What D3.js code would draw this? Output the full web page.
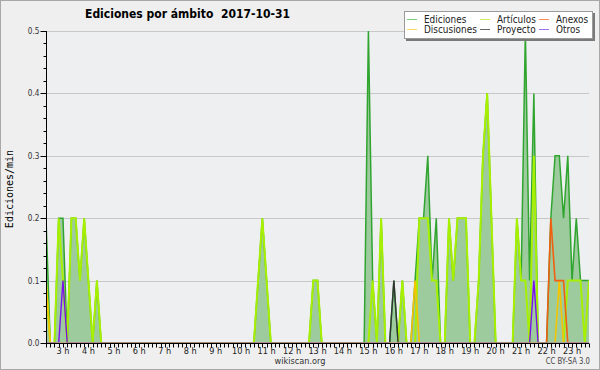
<!DOCTYPE html>
<html>
<head>
<meta charset="utf-8">
<script src="https://cdn.jsdelivr.net/npm/d3@7"></script>
<style>
  html, body { margin: 0; padding: 0; background: #efefef; }
  svg { display: block; }
  text { font-family: "DejaVu Sans", sans-serif; }
</style>
</head>
<body>
<div id="chart"></div>
<script>
// Ediciones por ámbito - wikiscan style day chart, one point every 10 minutes
// first point is 2:20, last one 23:40 (values are edits per minute)
const firstMinute = 140;
const stepMinutes = 10;

const ediciones = [
    0.2, 0, 0, 0.2, 0.2, 0,
    0.2, 0.2, 0.1, 0.2, 0.1, 0,
    0.1, 0, 0, 0, 0, 0,
    0, 0, 0, 0, 0, 0,
    0, 0, 0, 0, 0, 0,
    0, 0, 0, 0, 0, 0,
    0, 0, 0, 0, 0, 0,
    0, 0, 0, 0, 0, 0,
    0, 0, 0.1, 0.2, 0.1, 0,
    0, 0, 0, 0, 0, 0,
    0, 0, 0, 0.1, 0.1, 0,
    0, 0, 0, 0, 0, 0,
    0, 0, 0, 0, 0.5, 0.1,
    0, 0.2, 0, 0, 0.1, 0,
    0.1, 0, 0, 0.1, 0.2, 0.2,
    0.3, 0.1, 0.2, 0, 0, 0.2,
    0.1, 0.2, 0.2, 0.2, 0, 0,
    0.1, 0.3, 0.4, 0.2, 0, 0,
    0, 0, 0, 0.2, 0.1, 0.5,
    0.1, 0.4, 0, 0, 0, 0.2,
    0.3, 0.3, 0.2, 0.3, 0.1, 0.2,
    0.1, 0.1, 0.1
];

const articulos = [
    0.1, 0, 0, 0.2, 0.1, 0,
    0.2, 0.2, 0.1, 0.2, 0.1, 0,
    0.1, 0, 0, 0, 0, 0,
    0, 0, 0, 0, 0, 0,
    0, 0, 0, 0, 0, 0,
    0, 0, 0, 0, 0, 0,
    0, 0, 0, 0, 0, 0,
    0, 0, 0, 0, 0, 0,
    0, 0, 0.1, 0.2, 0.1, 0,
    0, 0, 0, 0, 0, 0,
    0, 0, 0, 0.1, 0.1, 0,
    0, 0, 0, 0, 0, 0,
    0, 0, 0, 0, 0, 0.1,
    0, 0.2, 0, 0, 0, 0,
    0.1, 0, 0, 0, 0.2, 0.2,
    0.2, 0.1, 0.1, 0, 0, 0.2,
    0.1, 0.2, 0.2, 0.2, 0, 0,
    0.1, 0.3, 0.4, 0.2, 0, 0,
    0, 0, 0, 0.2, 0.1, 0.1,
    0, 0.3, 0, 0, 0, 0,
    0, 0, 0, 0.1, 0.1, 0.1,
    0.1, 0, 0.1
];

const discusiones = [
    0.1, 0, 0, 0, 0, 0,
    0, 0, 0, 0, 0, 0,
    0, 0, 0, 0, 0, 0,
    0, 0, 0, 0, 0, 0,
    0, 0, 0, 0, 0, 0,
    0, 0, 0, 0, 0, 0,
    0, 0, 0, 0, 0, 0,
    0, 0, 0, 0, 0, 0,
    0, 0, 0, 0, 0, 0,
    0, 0, 0, 0, 0, 0,
    0, 0, 0, 0, 0, 0,
    0, 0, 0, 0, 0, 0,
    0, 0, 0, 0, 0, 0,
    0, 0, 0, 0, 0, 0,
    0, 0, 0, 0.1, 0, 0,
    0, 0, 0, 0, 0, 0,
    0, 0, 0, 0, 0, 0,
    0, 0, 0, 0, 0, 0,
    0, 0, 0, 0, 0, 0,
    0, 0, 0, 0, 0, 0,
    0, 0.1, 0, 0, 0, 0,
    0, 0, 0
];

const anexos = [
    0, 0, 0, 0, 0, 0,
    0, 0, 0, 0, 0, 0,
    0, 0, 0, 0, 0, 0,
    0, 0, 0, 0, 0, 0,
    0, 0, 0, 0, 0, 0,
    0, 0, 0, 0, 0, 0,
    0, 0, 0, 0, 0, 0,
    0, 0, 0, 0, 0, 0,
    0, 0, 0, 0, 0, 0,
    0, 0, 0, 0, 0, 0,
    0, 0, 0, 0, 0, 0,
    0, 0, 0, 0, 0, 0,
    0, 0, 0, 0, 0, 0,
    0, 0, 0, 0, 0, 0,
    0, 0, 0, 0, 0, 0,
    0, 0, 0, 0, 0, 0,
    0, 0, 0, 0, 0, 0,
    0, 0, 0, 0, 0, 0,
    0, 0, 0, 0, 0, 0,
    0, 0, 0, 0, 0, 0.2,
    0.1, 0.1, 0.1, 0, 0, 0,
    0, 0, 0
];

const proyecto = [
    0, 0, 0, 0, 0, 0,
    0, 0, 0, 0, 0, 0,
    0, 0, 0, 0, 0, 0,
    0, 0, 0, 0, 0, 0,
    0, 0, 0, 0, 0, 0,
    0, 0, 0, 0, 0, 0,
    0, 0, 0, 0, 0, 0,
    0, 0, 0, 0, 0, 0,
    0, 0, 0, 0, 0, 0,
    0, 0, 0, 0, 0, 0,
    0, 0, 0, 0, 0, 0,
    0, 0, 0, 0, 0, 0,
    0, 0, 0, 0, 0, 0,
    0, 0, 0, 0, 0.1, 0,
    0, 0, 0, 0, 0, 0,
    0, 0, 0, 0, 0, 0,
    0, 0, 0, 0, 0, 0,
    0, 0, 0, 0, 0, 0,
    0, 0, 0, 0, 0, 0,
    0, 0, 0, 0, 0, 0,
    0, 0, 0, 0, 0, 0,
    0, 0, 0
];

const otros = [
    0, 0, 0, 0, 0.1, 0,
    0, 0, 0, 0, 0, 0,
    0, 0, 0, 0, 0, 0,
    0, 0, 0, 0, 0, 0,
    0, 0, 0, 0, 0, 0,
    0, 0, 0, 0, 0, 0,
    0, 0, 0, 0, 0, 0,
    0, 0, 0, 0, 0, 0,
    0, 0, 0, 0, 0, 0,
    0, 0, 0, 0, 0, 0,
    0, 0, 0, 0, 0, 0,
    0, 0, 0, 0, 0, 0,
    0, 0, 0, 0, 0, 0,
    0, 0, 0, 0, 0, 0,
    0, 0, 0, 0, 0, 0,
    0, 0, 0, 0, 0, 0,
    0, 0, 0, 0, 0, 0,
    0, 0, 0, 0, 0, 0,
    0, 0, 0, 0, 0, 0,
    0, 0.1, 0, 0, 0, 0,
    0, 0, 0, 0, 0, 0,
    0, 0, 0
];

const hourTicks = [3, 4, 5, 6, 7, 8, 9, 10, 11, 12, 13, 14, 15, 16, 17, 18, 19, 20, 21, 22, 23];
const yTicks = [0, 0.1, 0.2, 0.3, 0.4, 0.5];

// series drawn as lines on top of the Ediciones area (legend order differs)
const lineSeries = [
    { name: 'Artículos', values: articulos, color: '#a6f000', width: 2 },
    { name: 'Discusiones', values: discusiones, color: '#f5c400', width: 1.6 },
    { name: 'Anexos', values: anexos, color: '#f06010', width: 1.6 },
    { name: 'Proyecto', values: proyecto, color: '#333333', width: 1.4 },
    { name: 'Otros', values: otros, color: '#7a10f0', width: 1.4 }
];

const legendItems = [
    { name: 'Ediciones', color: '#7ccc7c', col: 0, row: 0 },
    { name: 'Discusiones', color: '#f8d860', col: 0, row: 1 },
    { name: 'Artículos', color: '#c8f060', col: 1, row: 0 },
    { name: 'Proyecto', color: '#666666', col: 1, row: 1 },
    { name: 'Anexos', color: '#f79060', col: 2, row: 0 },
    { name: 'Otros', color: '#a070f0', col: 2, row: 1 }
];

const width = 600;
const height = 370;
const margin = { left: 46, right: 11, top: 31, bottom: 27 };

// no condensed DejaVu installed, so squeeze the text a little
function condense(sel, factor) {
    sel.each(function() {
        const w = this.getComputedTextLength();
        d3.select(this)
            .attr('textLength', w * factor)
            .attr('lengthAdjust', 'spacingAndGlyphs');
    });
}

const svg = d3.select('#chart')
    .append('svg')
    .attr('width', width)
    .attr('height', height);

// outer frame
svg.append('rect')
    .attr('x', 0.5).attr('y', 0.5)
    .attr('width', width - 1).attr('height', height - 1)
    .attr('fill', '#efefef')
    .attr('stroke', '#a8a8a8');

const x = d3.scaleLinear()
    .domain([firstMinute, firstMinute + stepMinutes * (ediciones.length - 1)])
    .range([margin.left, width - margin.right]);

const y = d3.scaleLinear()
    .domain([0, 0.5])
    .range([height - margin.bottom, margin.top]);

const minuteOf = i => firstMinute + i * stepMinutes;
const axisY = Math.round(y(0)) + 0.5;
const axisX = margin.left + 0.5;

// plot background
svg.append('rect')
    .attr('x', margin.left)
    .attr('y', margin.top)
    .attr('width', width - margin.right - margin.left)
    .attr('height', height - margin.bottom - margin.top)
    .attr('fill', '#eeeff1');

// keep the zero-level parts of the lines off the axis
svg.append('clipPath')
    .attr('id', 'plot-clip')
    .append('rect')
    .attr('x', margin.left)
    .attr('y', margin.top - 4)
    .attr('width', width - margin.right - margin.left)
    .attr('height', axisY - 1.3 - (margin.top - 4));

// horizontal grid
svg.selectAll('.grid')
    .data(yTicks.filter(d => d > 0))
    .enter()
    .append('line')
    .attr('class', 'grid')
    .attr('x1', margin.left)
    .attr('x2', width - margin.right)
    .attr('y1', d => Math.round(y(d)) + 0.5)
    .attr('y2', d => Math.round(y(d)) + 0.5)
    .attr('stroke', '#c8c8c8')
    .attr('stroke-width', 1);

const plot = svg.append('g').attr('clip-path', 'url(#plot-clip)');

// Ediciones area + line
const area = d3.area()
    .x((d, i) => x(minuteOf(i)))
    .y0(y(0))
    .y1(d => y(d));

const line = d3.line()
    .x((d, i) => x(minuteOf(i)))
    .y(d => y(d));

plot.append('path')
    .datum(ediciones)
    .attr('d', area)
    .attr('fill', '#9ecb9e');

plot.append('path')
    .datum(ediciones)
    .attr('d', line)
    .attr('fill', 'none')
    .attr('stroke', '#2fa52f')
    .attr('stroke-width', 1.5);

lineSeries.forEach(s => {
    plot.append('path')
        .datum(s.values)
        .attr('d', line)
        .attr('fill', 'none')
        .attr('stroke', s.color)
        .attr('stroke-width', s.width);
});

// x axis
svg.append('line')
    .attr('x1', margin.left).attr('x2', width - margin.right)
    .attr('y1', axisY).attr('y2', axisY)
    .attr('stroke', '#000');

svg.selectAll('.x-tick')
    .data(d3.range(ediciones.length))
    .enter()
    .append('line')
    .attr('class', 'x-tick')
    .attr('x1', i => Math.round(x(minuteOf(i))) + 0.5)
    .attr('x2', i => Math.round(x(minuteOf(i))) + 0.5)
    .attr('y1', axisY)
    .attr('y2', axisY + 4)
    .attr('stroke', '#000');

svg.selectAll('.x-label')
    .data(hourTicks)
    .enter()
    .append('text')
    .attr('class', 'x-label')
    .attr('x', h => x(h * 60))
    .attr('y', 354)
    .attr('text-anchor', 'middle')
    .attr('font-size', '9.5px')
    .attr('fill', '#222')
    .text(h => h + ' h')
    .call(condense, 0.86);

// y axis
svg.append('line')
    .attr('x1', axisX).attr('x2', axisX)
    .attr('y1', y(0.5)).attr('y2', axisY)
    .attr('stroke', '#000');

svg.selectAll('.y-minor')
    .data(d3.range(0, 0.5001, 0.02))
    .enter()
    .append('line')
    .attr('class', 'y-minor')
    .attr('x1', axisX - 3)
    .attr('x2', axisX)
    .attr('y1', d => Math.round(y(d)) + 0.5)
    .attr('y2', d => Math.round(y(d)) + 0.5)
    .attr('stroke', '#000');

svg.selectAll('.y-major')
    .data(yTicks)
    .enter()
    .append('line')
    .attr('class', 'y-major')
    .attr('x1', axisX - 6)
    .attr('x2', axisX)
    .attr('y1', d => Math.round(y(d)) + 0.5)
    .attr('y2', d => Math.round(y(d)) + 0.5)
    .attr('stroke', '#000');

svg.selectAll('.y-label')
    .data(yTicks)
    .enter()
    .append('text')
    .attr('class', 'y-label')
    .attr('x', axisX - 7)
    .attr('y', d => y(d) + 3)
    .attr('text-anchor', 'end')
    .attr('font-size', '8.5px')
    .attr('fill', '#333')
    .text(d => d3.format('.1f')(d))
    .call(condense, 0.86);

svg.append('text')
    .attr('transform', `translate(13, ${y(0.25) + 2}) rotate(-90)`)
    .attr('text-anchor', 'middle')
    .style('font-family', '"DejaVu Sans Mono", monospace')
    .attr('font-size', '10px')
    .attr('fill', '#000')
    .text('Ediciones/min');

// title
svg.append('text')
    .attr('x', 85)
    .attr('y', 18)
    .attr('font-size', '13px')
    .attr('font-weight', 'bold')
    .attr('fill', '#000')
    .attr('textLength', 205)
    .attr('lengthAdjust', 'spacingAndGlyphs')
    .text('Ediciones por ámbito\u00a0\u00a02017-10-31');

// footer
svg.append('text')
    .attr('x', 300)
    .attr('y', 364)
    .attr('text-anchor', 'middle')
    .attr('font-size', '9.5px')
    .attr('fill', '#333')
    .text('wikiscan.org')
    .call(condense, 0.86);

svg.append('text')
    .attr('x', 590)
    .attr('y', 364)
    .attr('text-anchor', 'end')
    .attr('font-size', '8px')
    .attr('fill', '#444')
    .text('CC BY-SA 3.0')
    .call(condense, 0.86);

// legend box with shadow
const legend = svg.append('g').attr('transform', 'translate(404, 11)');
legend.append('rect')
    .attr('x', 2).attr('y', 2)
    .attr('width', 189).attr('height', 28)
    .attr('fill', '#7a7a7a');
legend.append('rect')
    .attr('x', 0.5).attr('y', 0.5)
    .attr('width', 188).attr('height', 27)
    .attr('fill', '#fff')
    .attr('stroke', '#9a9a9a');

const colX = [3, 76, 135];
legendItems.forEach(item => {
    const lx = colX[item.col];
    const ly = 8.5 + item.row * 10;
    legend.append('line')
        .attr('x1', lx).attr('x2', lx + 10)
        .attr('y1', ly).attr('y2', ly)
        .attr('stroke', item.color)
        .attr('stroke-width', 1);
    legend.append('text')
        .attr('x', lx + 17)
        .attr('y', ly + 3)
        .attr('font-size', '10px')
        .attr('fill', '#222')
        .text(item.name)
        .call(condense, 0.89);
});
</script>
</body>
</html>
